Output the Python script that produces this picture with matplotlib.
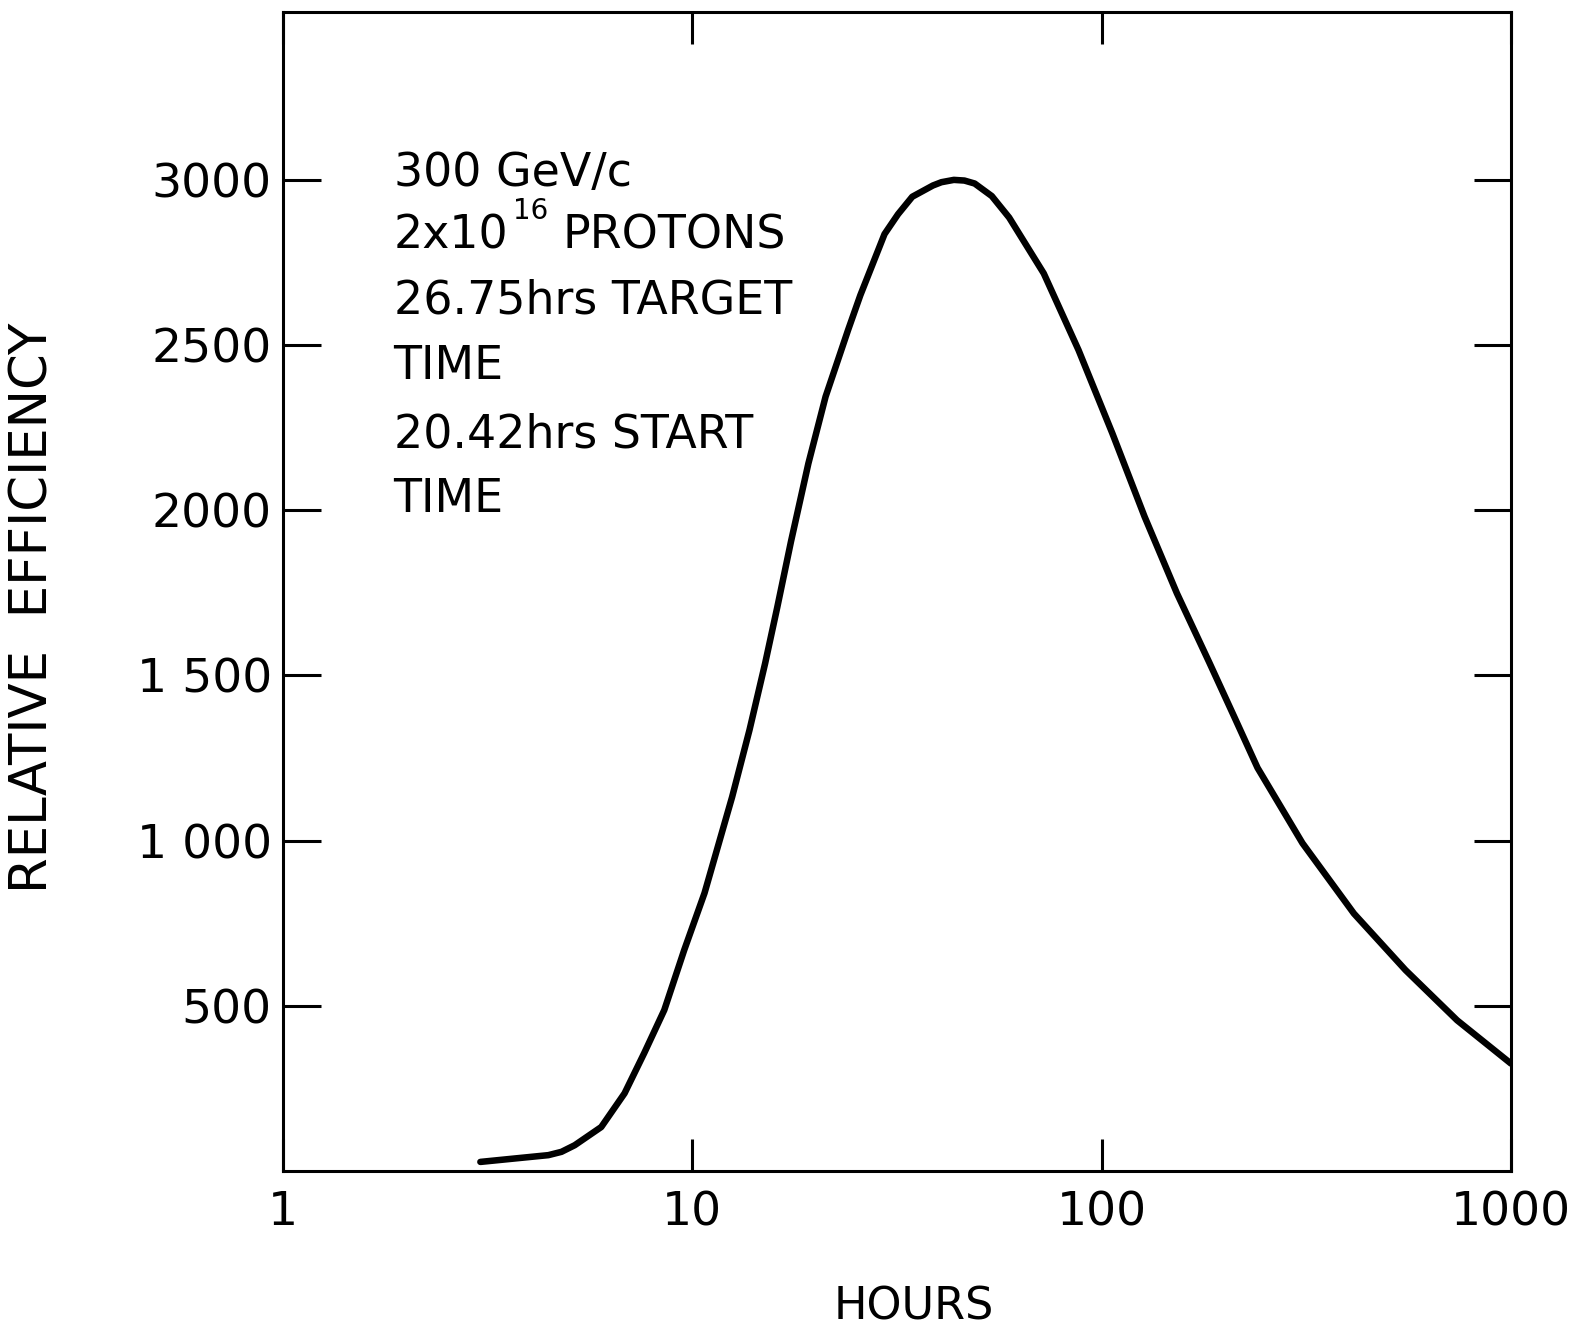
import matplotlib
matplotlib.use("Agg")
import matplotlib.pyplot as plt

# ---- data ----
hours = [3.035, 3.69, 4.45, 4.79, 5.16, 5.99, 6.83, 7.63, 8.54, 9.55, 10.71,
         12.51, 13.79, 15.06, 16.12, 17.42, 19.21, 21.16, 24.02, 25.73,
         29.48, 31.8, 34.46, 38.7, 40.6, 43.54, 46.2, 48.95, 53.90, 59.43,
         72.2, 87.8, 106.2, 127.3, 152.7, 183.0, 211.6, 240.3, 309.4, 413.3,
         552.4, 738.5, 1000.0]
efficiency = [27.5, 38, 48, 58, 78, 133, 235, 357, 487, 668, 841,
              1132, 1334, 1536, 1705, 1905, 2141, 2343, 2545, 2650,
              2835, 2895, 2948, 2982, 2992, 2999, 2997, 2988, 2950, 2885,
              2716, 2484, 2232, 1980, 1748, 1540, 1370, 1220, 992, 779,
              608, 456, 325]

x_ticks = [1, 10, 100, 1000]
x_tick_labels = ["1", "10", "100", "1000"]
y_ticks = [500, 1000, 1500, 2000, 2500, 3000]
y_tick_labels = ["500", "1 000", "1 500", "2000", "2500", "3000"]
x_label = "HOURS"
y_label = "RELATIVE  EFFICIENCY"
note_lines = ["300 GeV/c", None, "26.75hrs TARGET", "TIME", "20.42hrs START", "TIME"]
proton_base, proton_exp, proton_word = "2x10", "16", "PROTONS"

plt.rcParams["font.family"] = ["DejaVu Sans"]
FS = 33

W, H = 1583, 1330
fig = plt.figure(figsize=(W / 100, H / 100), dpi=100)
ax = fig.add_axes([283 / W, 1 - 1171 / H, (1511 - 283) / W, (1171 - 12) / H])

ax.plot(hours, efficiency, color="black", lw=4.7, solid_capstyle="round",
        solid_joinstyle="round")
ax.set_xscale("log")
ax.set_xlim(1, 1000)
ax.set_ylim(0, 3507)

for s in ax.spines.values():
    s.set_linewidth(2.2)

ax.set_xticks(x_ticks)
ax.set_xticklabels(x_tick_labels)
ax.xaxis.set_minor_locator(matplotlib.ticker.NullLocator())
ax.set_yticks(y_ticks)
ax.set_yticklabels(y_tick_labels)
ax.tick_params(axis="x", which="major", direction="in", length=23, width=2.2,
               top=True, bottom=True, labelsize=34, pad=14)
ax.tick_params(axis="y", which="major", direction="in", length=27, width=2.2,
               left=True, right=True, labelsize=34, pad=8)

fig.text(34 / W, 1 - 608 / H, y_label, rotation=90, ha="center", va="center", fontsize=37)
fig.text(914 / W, 1 - 1307 / H, x_label, ha="center", va="center", fontsize=32)

# annotation block
line_y = [0.861, 0.807, 0.751, 0.694, 0.635, 0.579]
x0 = 0.090
for txt, yy in zip(note_lines, line_y):
    if txt is not None:
        ax.text(x0, yy, txt, transform=ax.transAxes, ha="left", va="center", fontsize=FS)
t1 = ax.text(x0, line_y[1], proton_base, transform=ax.transAxes, ha="left",
             va="center", fontsize=FS)
t2 = ax.annotate(proton_exp, xy=(1, 0.86), xycoords=t1, xytext=(3.5, 0),
                 textcoords="offset points", ha="left", va="baseline", fontsize=20)
ax.annotate(proton_word, xy=(1, 0), xycoords=(t2, t1), xytext=(10, 0),
            textcoords="offset points", ha="left", va="bottom", fontsize=FS)

fig.savefig("out.png", dpi=100, facecolor="white")
